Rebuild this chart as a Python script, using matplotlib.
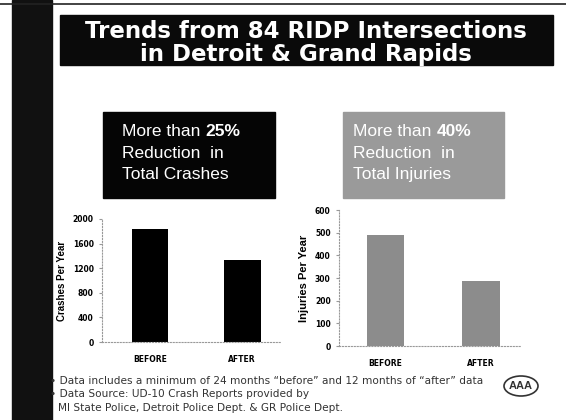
import matplotlib.pyplot as plt
from matplotlib.patches import Rectangle, Ellipse

# data
categories = ["BEFORE", "AFTER"]
crashes = [1840, 1330]
injuries = [490, 287]
crash_ticks = [0, 400, 800, 1200, 1600, 2000]
injury_ticks = [0, 100, 200, 300, 400, 500, 600]

W, H = 566, 420


def fx(px):
    return px / W


def fy(py):
    return 1 - py / H


fig = plt.figure(figsize=(5.66, 4.2), dpi=100)
fig.patch.set_facecolor("white")
plt.rcParams["font.family"] = ["Liberation Sans", "DejaVu Sans"]

# left dark strip and top rule
fig.add_artist(Rectangle((fx(12), 0), fx(40), 1, transform=fig.transFigure,
                         color="#111111", zorder=0))
fig.add_artist(plt.Line2D([0, 1], [fy(4), fy(4)], transform=fig.transFigure,
                          color="#222222", lw=1.2))

# title box
fig.add_artist(Rectangle((fx(60), fy(65)), fx(493), 50 / H, transform=fig.transFigure,
                         color="#0a0a0a", zorder=1))
fig.text(fx(306), fy(31), "Trends from 84 RIDP Intersections", color="white",
         fontsize=16.5, fontweight="bold", ha="center", va="center", family="DejaVu Sans")
fig.text(fx(306), fy(55), "in Detroit & Grand Rapids", color="white",
         fontsize=16.5, fontweight="bold", ha="center", va="center", family="DejaVu Sans")

# callout boxes
fig.add_artist(Rectangle((fx(103), fy(198)), fx(172), 86 / H, transform=fig.transFigure,
                         color="#050505", zorder=1))
fig.add_artist(Rectangle((fx(343), fy(198)), fx(161), 86 / H, transform=fig.transFigure,
                         color="#9a9a9a", zorder=1))
renderer = fig.canvas.get_renderer()
for x0, pct, last in [(122, "25%", "Total Crashes"), (353, "40%", "Total Injuries")]:
    t = fig.text(fx(x0), fy(132), "More than", color="white", fontsize=12.5, va="center")
    bb = t.get_window_extent(renderer)
    fig.text(fx(bb.x1 + 5), fy(132), pct, color="white", fontsize=12.5,
             fontweight="bold", va="center")
    fig.text(fx(x0), fy(153), "Reduction  in", color="white", fontsize=12.5, va="center")
    fig.text(fx(x0), fy(174), last, color="white", fontsize=12.5, va="center")


def style_axes(ax, ticks, label, lsize):
    for s in ["top", "right"]:
        ax.spines[s].set_visible(False)
    for s in ["left", "bottom"]:
        ax.spines[s].set_color("#999999")
        ax.spines[s].set_linestyle(":")
        ax.spines[s].set_linewidth(0.8)
    ax.set_yticks(ticks)
    ax.set_ylim(0, ticks[-1])
    ax.tick_params(axis="y", length=2, color="#999999", labelsize=5.5, pad=4)
    ax.tick_params(axis="x", length=0, labelsize=5.5, pad=9)
    for t in ax.get_yticklabels() + ax.get_xticklabels():
        t.set_fontweight("bold")
        t.set_family("DejaVu Sans")
    ax.set_ylabel(label, fontsize=lsize, fontweight="bold", labelpad=4)
    ax.patch.set_alpha(0)


ax1 = fig.add_axes([fx(102), fy(342), fx(178), 123 / H])
ax1.bar(range(len(categories)), crashes, width=0.4, color="black")
ax1.set_xticks(range(len(categories)))
ax1.set_xticklabels(categories)
ax1.set_xlim(-0.52, 1.41)
style_axes(ax1, crash_ticks, "Crashes Per Year", 7)

ax2 = fig.add_axes([fx(339), fy(346), fx(181), 136 / H])
ax2.bar(range(len(categories)), injuries, width=0.39, color="#8c8c8c")
ax2.set_xticks(range(len(categories)))
ax2.set_xticklabels(categories)
ax2.set_xlim(-0.49, 1.41)
style_axes(ax2, injury_ticks, "Injuries Per Year", 8)

# footnotes
notes = [
    (50, 381, "\u2022 Data includes a minimum of 24 months \u201cbefore\u201d and 12 months of \u201cafter\u201d data"),
    (50, 394, "\u2022 Data Source: UD-10 Crash Reports provided by"),
    (58, 408, "MI State Police, Detroit Police Dept. & GR Police Dept."),
]
for x0, y0, s in notes:
    fig.text(fx(x0), fy(y0), s, fontsize=7.6, color="#333333", va="center",
             family="DejaVu Sans")

# AAA logo sketch
fig.add_artist(Ellipse((fx(521), fy(386)), fx(34), 20 / H, transform=fig.transFigure,
                       fill=False, ec="#333333", lw=1.2))
fig.text(fx(521), fy(386), "AAA", fontsize=8, fontweight="bold", color="#333333",
         ha="center", va="center")

fig.savefig("out.png", dpi=100)
